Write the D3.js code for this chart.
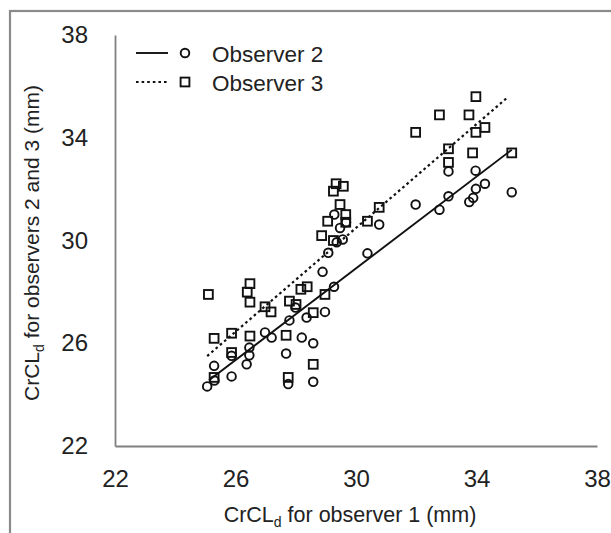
<!DOCTYPE html>
<html>
<head>
<meta charset="utf-8">
<script src="https://cdn.jsdelivr.net/npm/d3@7"></script>
<style>
  html, body { margin: 0; padding: 0; background: #fff; }
  svg { display: block; font-family: "Liberation Sans", Arial, sans-serif; }
</style>
</head>
<body>
<svg id="chart" width="611" height="533"></svg>
<script>
// Observer 2 (circles): x = observer 1, y = observer 2
const obs2X = [25.06, 25.29, 25.30, 25.87, 25.87, 26.37, 26.46, 26.46, 26.98, 27.20,
               27.68, 27.75, 27.79, 27.99, 28.20, 28.36, 28.58, 28.58, 28.97, 29.27,
               28.89, 29.08, 30.38, 29.28, 29.47, 29.67, 29.36, 29.56, 30.77, 33.07,
               33.97, 34.28, 33.98, 33.89, 33.76, 33.07, 32.77, 31.98, 35.17];
const obs2Y = [24.32, 25.12, 24.55, 24.71, 25.51, 25.18, 25.53, 25.83, 26.42, 26.22,
               25.60, 24.41, 26.89, 27.39, 26.22, 27.00, 26.00, 24.50, 27.22, 28.20,
               28.78, 29.52, 29.50, 31.01, 30.49, 30.71, 29.93, 30.04, 30.62, 32.69,
               32.72, 32.21, 32.01, 31.66, 31.50, 31.72, 31.20, 31.40, 31.88];
// Observer 3 (squares)
const obs3X = [25.10, 25.29, 25.29, 25.87, 25.87, 26.48, 26.39, 26.48, 26.48, 26.98,
               27.18, 27.68, 27.75, 27.79, 28.01, 28.17, 28.38, 28.58, 28.58, 28.97,
               29.34, 29.58, 29.25, 29.47, 29.66, 29.06, 29.66, 28.86, 29.25, 30.38,
               30.77, 33.98, 32.77, 33.75, 31.98, 33.98, 34.28, 33.07, 33.87, 33.07, 35.17];
const obs3Y = [27.90, 26.19, 24.67, 26.39, 25.64, 28.32, 27.99, 27.60, 26.28, 27.42,
               27.22, 26.31, 24.67, 27.64, 27.51, 28.10, 28.20, 27.19, 25.18, 27.90,
               32.21, 32.11, 31.92, 31.40, 31.01, 30.75, 30.71, 30.19, 30.00, 30.75,
               31.29, 35.60, 34.89, 34.89, 34.21, 34.21, 34.40, 33.57, 33.41, 33.04, 33.41];
// Fitted lines (end points)
const line2X = [25.12, 35.17];
const line2Y = [24.56, 33.53];
const line3X = [25.06, 35.06];
const line3Y = [25.50, 35.60];

const xTicks = [22, 26, 30, 34, 38];
const yTicks = [22, 26, 30, 34, 38];
const seriesNames = ["Observer 2", "Observer 3"];

const svg = d3.select("#chart");
const margin = {left: 115, right: 14, top: 35, bottom: 87};
const W = 611, H = 533;

// outer frame
svg.append("rect")
  .attr("x", 10).attr("y", 11)
  .attr("width", 640).attr("height", 560)
  .attr("fill", "none").attr("stroke", "#8a8a8a").attr("stroke-width", 2.2);

const x = d3.scaleLinear().domain([22, 38]).range([margin.left, W - margin.right]);
const y = d3.scaleLinear().domain([22, 38]).range([H - margin.bottom, margin.top]);

const xAxis = svg.append("g")
  .attr("transform", `translate(0,${H - margin.bottom})`)
  .call(d3.axisBottom(x).tickValues(xTicks).tickSize(0).tickSizeOuter(0).tickPadding(24).tickFormat(d3.format("d")));
const yAxis = svg.append("g")
  .attr("transform", `translate(${margin.left},0)`)
  .call(d3.axisLeft(y).tickValues(yTicks).tickSize(0).tickSizeOuter(0).tickPadding(27).tickFormat(d3.format("d")));

[xAxis, yAxis].forEach(g => {
  g.select(".domain").attr("stroke", "#808080").attr("stroke-width", 1.8);
  g.selectAll("text").attr("font-size", 24).attr("fill", "#222")
    .attr("font-family", "'Liberation Sans', Arial, sans-serif");
});

// fitted lines
const lineGen = d3.line().x(d => x(d[0])).y(d => y(d[1]));
svg.append("path")
  .datum(d3.zip(line2X, line2Y))
  .attr("d", lineGen).attr("fill", "none").attr("stroke", "#111").attr("stroke-width", 1.9);
svg.append("path")
  .datum(d3.zip(line3X, line3Y))
  .attr("d", lineGen).attr("fill", "none").attr("stroke", "#111").attr("stroke-width", 2.2)
  .attr("stroke-dasharray", "2.6,3");

// markers
const r0 = 4.3;
svg.append("g").selectAll("circle")
  .data(d3.zip(obs2X, obs2Y)).join("circle")
  .attr("cx", d => x(d[0])).attr("cy", d => y(d[1])).attr("r", r0)
  .attr("fill", "none").attr("stroke", "#111").attr("stroke-width", 1.9);
const s = 8.8;
svg.append("g").selectAll("rect")
  .data(d3.zip(obs3X, obs3Y)).join("rect")
  .attr("x", d => x(d[0]) - s / 2).attr("y", d => y(d[1]) - s / 2)
  .attr("width", s).attr("height", s)
  .attr("fill", "none").attr("stroke", "#111").attr("stroke-width", 1.9);

// legend
const leg = svg.append("g");
const rows = [{y: 53, dash: null, shape: "circle"}, {y: 82, dash: "2.6,3", shape: "square"}];
rows.forEach((r, i) => {
  leg.append("line").attr("x1", 136).attr("x2", 168).attr("y1", r.y).attr("y2", r.y)
    .attr("stroke", "#111").attr("stroke-width", i === 0 ? 1.9 : 2.2)
    .attr("stroke-dasharray", r.dash);
  if (r.shape === "circle") {
    leg.append("circle").attr("cx", 185).attr("cy", r.y).attr("r", r0)
      .attr("fill", "none").attr("stroke", "#111").attr("stroke-width", 1.9);
  } else {
    leg.append("rect").attr("x", 185 - s / 2).attr("y", r.y - s / 2).attr("width", s).attr("height", s)
      .attr("fill", "none").attr("stroke", "#111").attr("stroke-width", 1.9);
  }
  leg.append("text").attr("x", 212).attr("y", r.y + 8.5)
    .attr("font-size", 22.5).attr("fill", "#222").text(seriesNames[i]);
});

// axis titles
const xt = svg.append("text").attr("x", 350).attr("y", 522).attr("text-anchor", "middle")
  .attr("font-size", 21.5).attr("fill", "#222");
xt.append("tspan").text("CrCL");
xt.append("tspan").attr("font-size", 14).attr("dy", 5).text("d");
xt.append("tspan").attr("dy", -5).text(" for observer 1 (mm)");

const yt = svg.append("text").attr("transform", "translate(39,243) rotate(-90)")
  .attr("text-anchor", "middle").attr("font-size", 21).attr("fill", "#222");
yt.append("tspan").text("CrCL");
yt.append("tspan").attr("font-size", 14).attr("dy", 5).text("d");
yt.append("tspan").attr("dy", -5).text(" for observers 2 and 3 (mm)");
</script>
</body>
</html>
